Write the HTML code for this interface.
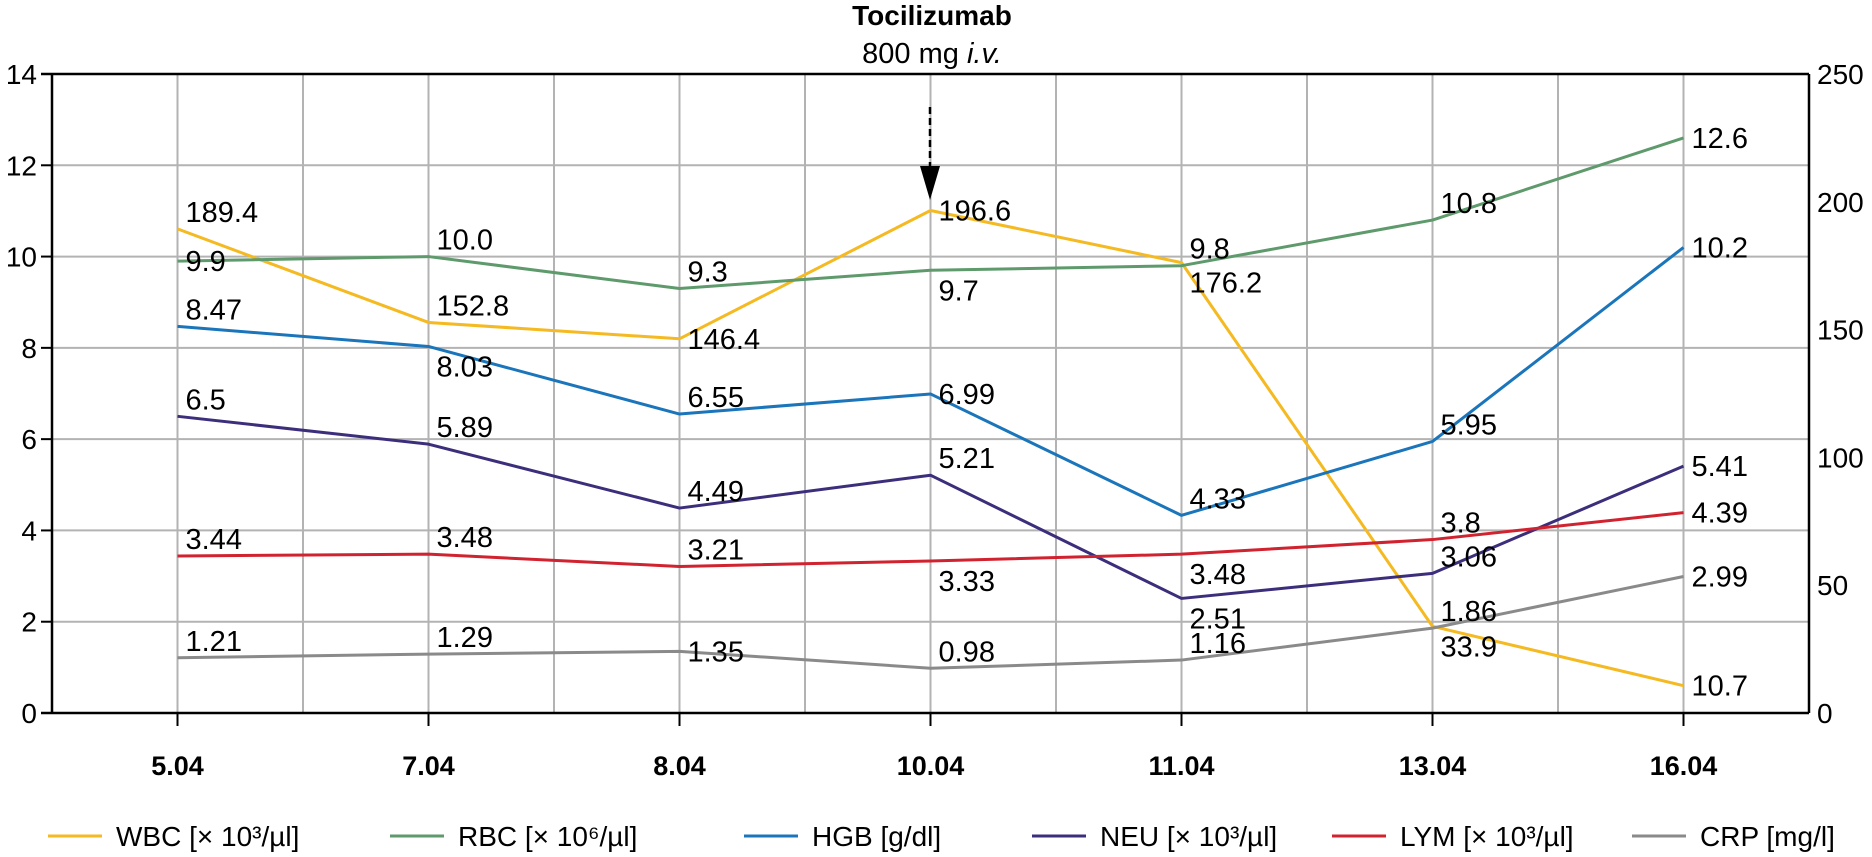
<!DOCTYPE html>
<html><head><meta charset="utf-8"><style>
html,body{margin:0;padding:0;background:#fff;}
svg{display:block;font-family:"Liberation Sans",sans-serif;}
</style></head><body>
<svg id="chart" width="1872" height="857" viewBox="0 0 1872 857" xmlns="http://www.w3.org/2000/svg">
<g id="grid"></g>
<g id="axes"></g>
<g id="series"></g>
<g id="labels"></g>
<text x="932" y="25" text-anchor="middle" font-size="28" font-weight="bold">Tocilizumab</text>
<text x="932" y="63" text-anchor="middle" font-size="29">800 mg <tspan font-style="italic">i.v.</tspan></text>
<g>
<line x1="930" y1="107" x2="930" y2="168" stroke="#000" stroke-width="2.5" stroke-dasharray="7,4"/>
<polygon points="920,166 940,166 930,200" fill="#000"/>
</g>
<g id="legend"></g>
</svg>
<script>
const categories=["5.04","7.04","8.04","10.04","11.04","13.04","16.04"];
const wbc=[189.4,152.8,146.4,196.6,176.2,33.9,10.7];
const rbc=[9.9,10.0,9.3,9.7,9.8,10.8,12.6];
const hgb=[8.47,8.03,6.55,6.99,4.33,5.95,10.2];
const neu=[6.5,5.89,4.49,5.21,2.51,3.06,5.41];
const lym=[3.44,3.48,3.21,3.33,3.48,3.8,4.39];
const crp=[1.21,1.29,1.35,0.98,1.16,1.86,2.99];
const wbcText=["189.4","152.8","146.4","196.6","176.2","33.9","10.7"];
const rbcText=["9.9","10.0","9.3","9.7","9.8","10.8","12.6"];
const hgbText=["8.47","8.03","6.55","6.99","4.33","5.95","10.2"];
const neuText=["6.5","5.89","4.49","5.21","2.51","3.06","5.41"];
const lymText=["3.44","3.48","3.21","3.33","3.48","3.8","4.39"];
const crpText=["1.21","1.29","1.35","0.98","1.16","1.86","2.99"];
const leftTicks=[0,2,4,6,8,10,12,14];
const rightTicks=[0,50,100,150,200,250];

const NS="http://www.w3.org/2000/svg";
const L=52,R=1809,T=74,B=713;
const band=(R-L)/categories.length;
const xPos=i=>L+band*(i+0.5);
const yL=v=>B-(v/14)*(B-T);
const yR=v=>B-(v/250)*(B-T);
function mk(tag,attrs,parent,text){const e=document.createElementNS(NS,tag);for(const k in attrs)e.setAttribute(k,attrs[k]);if(text!==undefined)e.textContent=text;parent.appendChild(e);return e;}
const grid=document.getElementById('grid'),axes=document.getElementById('axes'),series=document.getElementById('series'),labels=document.getElementById('labels'),legend=document.getElementById('legend');

leftTicks.forEach(t=>{
  if(t>0&&t<14){const g=mk('line',{x1:L,x2:R,y1:yL(t),y2:yL(t),stroke:'#b3b3b3','stroke-width':2},grid);
  
  }
  const tk=mk('line',{x1:L-11,x2:L,y1:yL(t),y2:yL(t),stroke:'#000','stroke-width':2},axes);
  
  
  const lb=mk('text',{x:L-15,y:yL(t)+10,'text-anchor':'end','font-size':28},axes,String(t));
  
  
});
rightTicks.forEach(t=>{
  const lb=mk('text',{x:R+8,y:yR(t)+10,'font-size':28},axes,String(t));
  
  
});
for(let k=1;k<categories.length*2;k++){
  const x=L+band*k/2;
  const g=mk('line',{x1:x,x2:x,y1:T,y2:B,stroke:'#b3b3b3','stroke-width':2},grid);
  
  
}
categories.forEach((c,i)=>{
  const tk=mk('line',{x1:xPos(i),x2:xPos(i),y1:B,y2:B+13,stroke:'#000','stroke-width':2},axes);
  
  
  const lb=mk('text',{x:xPos(i),y:775,'text-anchor':'middle','font-size':27,'font-weight':'bold'},axes,c);
  
  
});
[[L-11,T,R,T],[L,T,L,B],[L-11,B,R,B],[R,T,R,B]].forEach(a=>{
  const e=mk('line',{x1:a[0],y1:a[1],x2:a[2],y2:a[3],stroke:'#000','stroke-width':2.5},axes);
  
  
});

const defs=[
 {n:'wbc',v:wbc,t:wbcText,c:'#f5b921',y:yR,p:['a','a','r','r','b','b','r'],leg:'WBC [× 10³/µl]'},
 {n:'rbc',v:rbc,t:rbcText,c:'#5e9a6c',y:yL,p:['r','a','a','b','a','a','r'],leg:'RBC [× 10⁶/µl]'},
 {n:'hgb',v:hgb,t:hgbText,c:'#1b75bb',y:yL,p:['a','b','a','r','a','a','r'],leg:'HGB [g/dl]'},
 {n:'neu',v:neu,t:neuText,c:'#3d2e7c',y:yL,p:['a','a','a','a','b','a','r'],leg:'NEU [× 10³/µl]'},
 {n:'lym',v:lym,t:lymText,c:'#d0232f',y:yL,p:['a','a','a','b','b','a','r'],leg:'LYM [× 10³/µl]'},
 {n:'crp',v:crp,t:crpText,c:'#8a8a8a',y:yL,p:['a','a','r','a','a','a','r'],leg:'CRP [mg/l]'}
];
const dy={a:-7,b:30,r:10};
const legX=[48,390,744,1032,1332,1632];
defs.forEach((d,si)=>{
  const pts=d.v.map((v,i)=>xPos(i)+','+d.y(v)).join(' ');
  const pl=mk('polyline',{points:pts,fill:'none',stroke:d.c,'stroke-width':3,'stroke-linejoin':'round'},series);
  
  
  d.v.forEach((v,i)=>{
    const tx=mk('text',{x:xPos(i)+8,y:d.y(v)+dy[d.p[i]],'font-size':29},labels,d.t[i]);
    
    
  });
  const g=mk('g',{},legend);
  
  
  mk('line',{x1:legX[si],x2:legX[si]+54,y1:836,y2:836,stroke:d.c,'stroke-width':3},g);
  mk('text',{x:legX[si]+68,y:846,'font-size':28},g,d.leg);
});
</script>
</body></html>
